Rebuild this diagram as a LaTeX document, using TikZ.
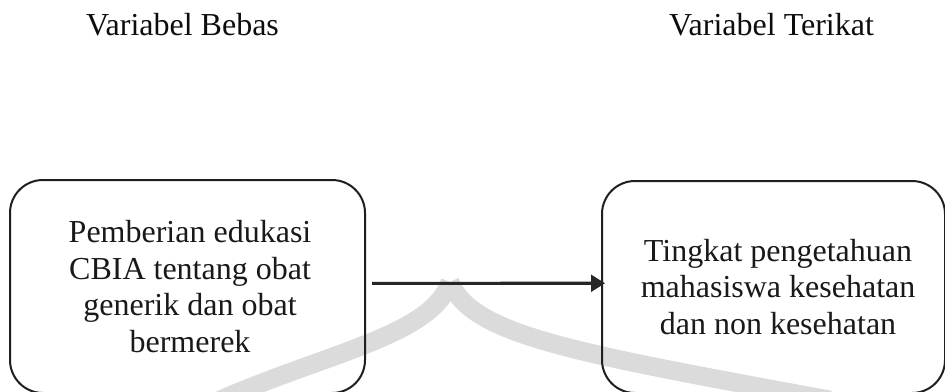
\documentclass[tikz,border=0pt]{standalone}
\usepackage{fontspec}
\setmainfont{Liberation Serif}
\usetikzlibrary{arrows.meta}
\tikzset{
  varbox/.style={draw=black!88, line width=1.5pt, rounded corners=24.75pt, inner sep=0pt},
  boxtext/.style={align=center, inner sep=0pt, text=black!90, font=\fontsize{24}{27.5}\selectfont},
  headtext/.style={inner sep=0pt, text=black!95, font=\fontsize{24}{27.5}\selectfont, anchor=base},
  flowarrow/.style={draw=black!85, line width=2.3pt, -{Triangle[length=10.5pt,width=12.5pt]}},
  watermark/.style={draw=black!14, line width=14pt}
}
\begin{document}
\begin{tikzpicture}[x=0.75pt,y=-0.75pt]
\useasboundingbox (0,0) rectangle (945,392);
\clip (0,0) rectangle (945,392);
\fill[white] (0,0) rectangle (945,392);
% faint background watermark
\draw[watermark] (220,400) .. controls (330,352) and (432,335) .. (450,282);
\draw[watermark] (450,282) .. controls (472,335) and (570,352) .. (830,400);
% headers
\node[headtext] (hb) at (182.5,36) {Variabel Bebas};
\node[headtext] (ht) at (771.5,36) {Variabel Terikat};
% boxes
\node[varbox, minimum width=266.25pt, minimum height=159.75pt] (lb) at (187.5,286.5) {};
\node[varbox, minimum width=257.25pt, minimum height=159pt] (rb) at (773.5,287) {};
% texts
\node[boxtext] (lt) at ([xshift=1.9pt]lb.center) {Pemberian edukasi\\CBIA tentang obat\\generik dan obat\\bermerek};
\node[boxtext] (rt) at ([xshift=3.4pt]rb.center) {Tingkat pengetahuan\\mahasiswa kesehatan\\dan non kesehatan};
% arrow
\draw[flowarrow] ([xshift=4.5pt,yshift=2.4pt]lb.east) -- ([xshift=3pt,yshift=2.8pt]rb.west);
\end{tikzpicture}
\end{document}
